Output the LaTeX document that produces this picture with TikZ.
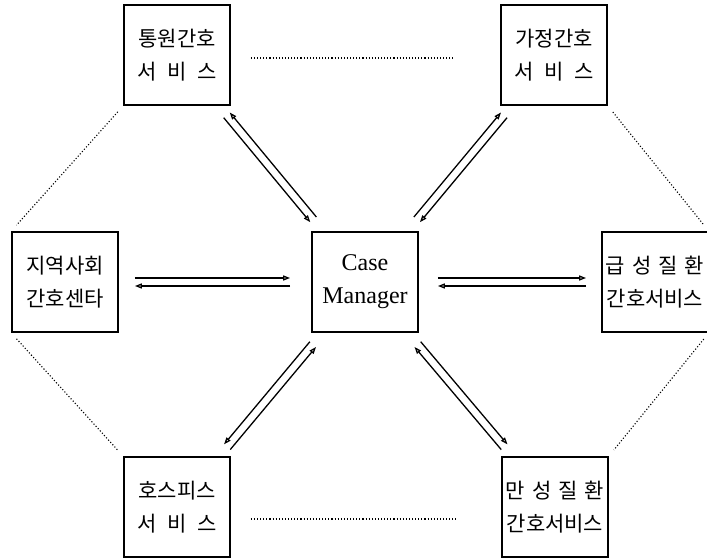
\documentclass[tikz,border=0pt]{standalone}
\usepackage{fontspec}
\newfontfamily\krfont{Noto Sans CJK KR}
\newfontfamily\cmfont{Liberation Serif}
\usetikzlibrary{positioning, calc, arrows.meta}
\newcommand{\kgap}{\hspace{.5em}}
\newcommand{\kgapb}{\hspace{.333em}}
\tikzset{
  unit/.style={draw,line width=1.7pt,minimum width=106pt,minimum height=100pt,inner sep=1pt,align=center,font=\krfont\fontsize{21}{33}\selectfont},
  flow/.style={->,>={Triangle[open,length=7pt,width=5pt]},line width=1.3pt},
  tie/.style={dotted,line width=1.1pt},
}
\begin{document}
\begin{tikzpicture}[x=1pt,y=-1pt]
      \useasboundingbox (0,0) rectangle (707,558);
      \clip (0,0) rectangle (707,558);
      \node[unit] (tl) at (177,55) {통원간호\\서\kgap 비\kgap 스};
      \node[unit] (tr) at (554,55) {가정간호\\서\kgap 비\kgap 스};
      \node[unit] (fl) at (65,282) {지역사회\\간호센타};
      \node[unit,font=\cmfont\fontsize{24}{33}\selectfont] (cm) at (365,282) {Case\\Manager};
      \node[unit] (fr) at (655,282) {급\kgapb 성\kgapb 질\kgapb 환\\간호서비스};
      \node[unit] (bl) at (177,507) {호스피스\\서\kgap 비\kgap 스};
      \node[unit] (br) at (555,507) {만\kgapb 성\kgapb 질\kgapb 환\\간호서비스};
      % dotted ring
      \draw[tie,shorten <=20pt,shorten >=45pt] ([yshift=-3pt]tl.east) -- ([yshift=-3pt]tr.west);
      \draw[tie,shorten <=20pt,shorten >=45pt] ([yshift=-12pt]bl.east) -- ([yshift=-12pt]br.west);
      \draw[tie,shorten <=8pt,shorten >=8pt] (tl.south west) -- (fl.north west);
      \draw[tie,shorten <=8pt,shorten >=8pt] (fl.south west) -- (bl.north west);
      \draw[tie,shorten <=8pt,shorten >=8pt] (tr.south east) -- (fr.north east);
      \draw[tie,shorten <=8pt,shorten >=8pt] (fr.south east) -- (br.north east);
      % arrows to and from the manager
      \draw[flow,shorten <=16pt,shorten >=21pt,transform canvas={shift={(0,-4)}}] (fl) -- (cm);%右
      \draw[flow,shorten <=21pt,shorten >=16pt,transform canvas={shift={(0,4)}}] (cm) -- (fl);%左
      \draw[flow,shorten <=19pt,shorten >=15pt,transform canvas={shift={(0,-4)}}] (cm) -- (fr);
      \draw[flow,shorten <=15pt,shorten >=19pt,transform canvas={shift={(0,4)}}] (fr) -- (cm);
      \draw[flow,shorten <=12pt,shorten >=15pt,transform canvas={shift={(-3.1,2.6)}}] (tl) -- (cm);
      \draw[flow,shorten <=15pt,shorten >=12pt,transform canvas={shift={(3.1,-2.6)}}] (cm) -- (tl);
      \draw[flow,shorten <=12pt,shorten >=15pt,transform canvas={shift={(3.1,2.6)}}] (tr) -- (cm);
      \draw[flow,shorten <=15pt,shorten >=12pt,transform canvas={shift={(-3.1,-2.6)}}] (cm) -- (tr);
      \draw[flow,shorten <=12pt,shorten >=15pt,transform canvas={shift={(3.1,2.6)}}] (bl) -- (cm);
      \draw[flow,shorten <=15pt,shorten >=12pt,transform canvas={shift={(-3.1,-2.6)}}] (cm) -- (bl);
      \draw[flow,shorten <=12pt,shorten >=15pt,transform canvas={shift={(-3.1,2.6)}}] (br) -- (cm);
      \draw[flow,shorten <=15pt,shorten >=12pt,transform canvas={shift={(3.1,-2.6)}}] (cm) -- (br);
\end{tikzpicture}
\end{document}
